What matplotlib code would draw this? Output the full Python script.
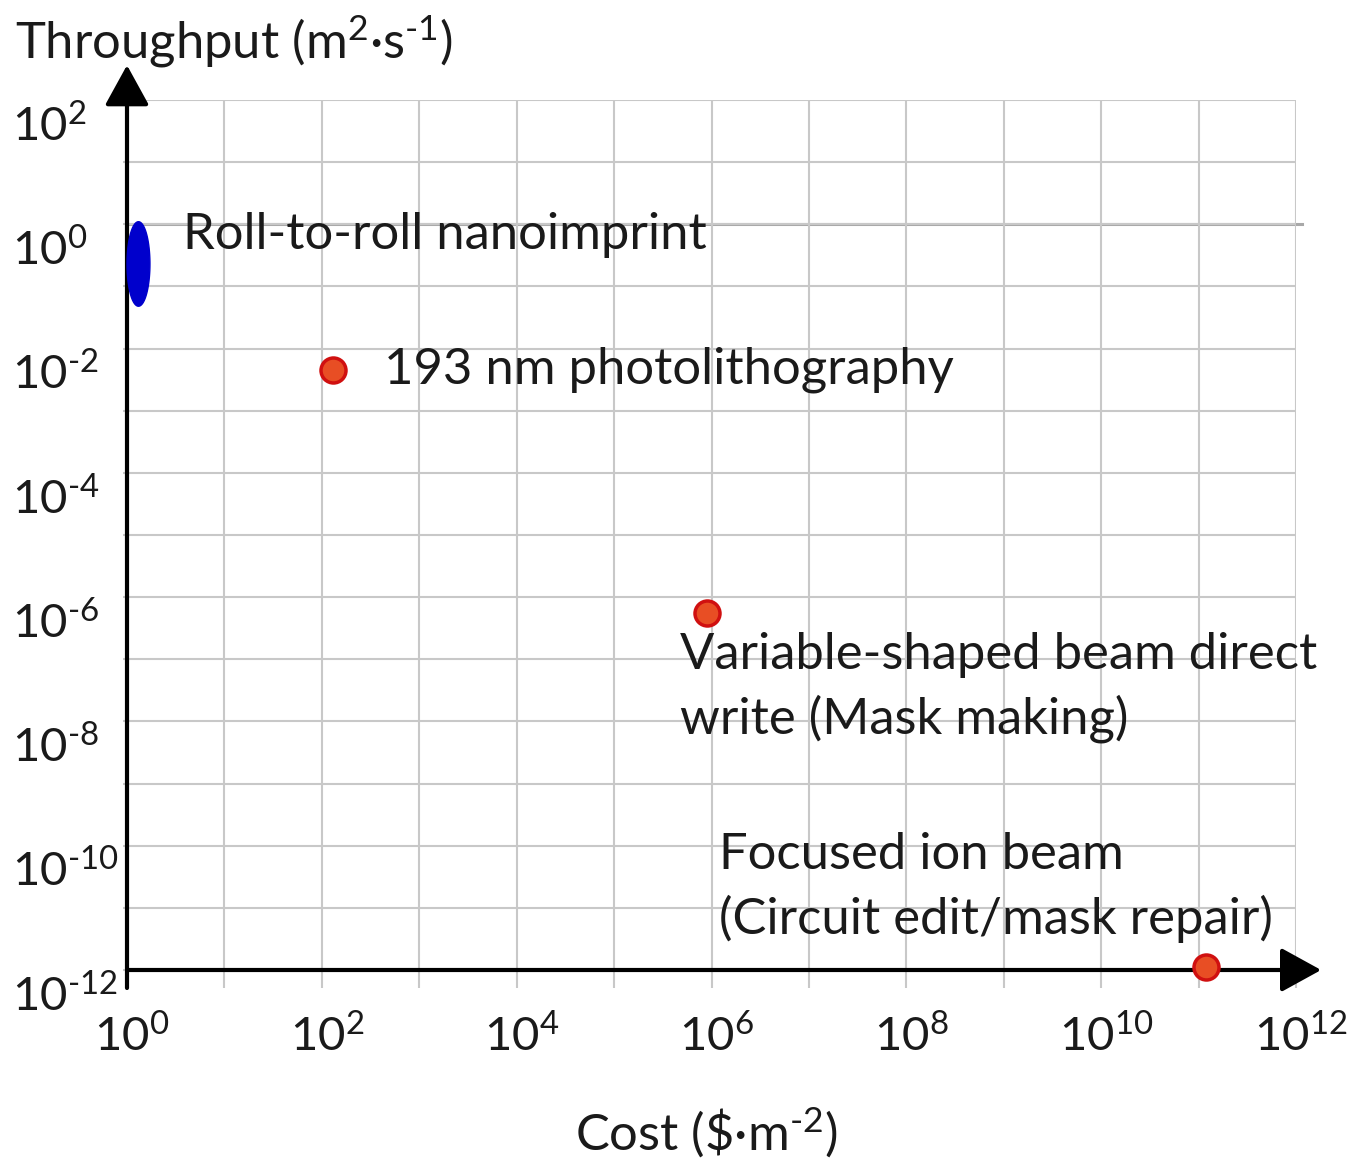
import numpy as np
import matplotlib
matplotlib.use('Agg')
from matplotlib import pyplot as plt
from matplotlib.ticker import NullLocator
from matplotlib.transforms import ScaledTranslation

plt.rcParams['font.family'] = ['Lato', 'DejaVu Sans']
plt.rcParams['mathtext.fontset'] = 'custom'
plt.rcParams['mathtext.rm'] = 'Lato'
plt.rcParams['mathtext.it'] = 'Lato:italic'
plt.rcParams['mathtext.bf'] = 'Lato:bold'

# point techniques: cost ($/m^2) vs throughput (m^2/s)
point_names = ['193 nm photolithography',
               'Variable-shaped beam direct\nwrite (Mask making)',
               'Focused ion beam\n(Circuit edit/mask repair)']
point_cost = [1.3e2, 9.0e5, 1.2e11]
point_tput = [4.6e-3, 5.5e-7, 1.1e-12]
label_cost = [4.3e2, 4.8e5, 1.2e6]
label_tput = [4.5e-3, 3.5e-8, 2.1e-11]

# roll-to-roll spans a range -> ellipse
r2r_name = 'Roll-to-roll nanoimprint'
r2r_cost = [1.0, 1.72]
r2r_tput = [0.048, 1.1]
r2r_label_pos = (3.8, 0.66)

x_exps = list(range(0, 13))
y_exps = list(range(-12, 3))


def sup_label(e):
    if e % 2:
        return ''
    if e < 0:
        return r'10$^{\text{-%d}}$' % -e
    return '10$^{%d}$' % e


x_labels = [sup_label(e) for e in x_exps]
y_labels = [sup_label(e) for e in y_exps]

FS = 36.5

fig = plt.figure(figsize=(13.58, 11.58), dpi=100)
ax = fig.add_axes([127 / 1358, 1 - 970 / 1158, (1296 - 127) / 1358, (970 - 100) / 1158])
ax.set_xscale('log')
ax.set_yscale('log')
ax.set_xlim(1, 1e12)
ax.set_ylim(1e-12, 1e2)
ax.set_xticks([10.0 ** e for e in x_exps], x_labels)
ax.set_yticks([10.0 ** e for e in y_exps], y_labels)
ax.xaxis.set_minor_locator(NullLocator())
ax.yaxis.set_minor_locator(NullLocator())
ax.grid(True, which='major', color='#c8c8c8', lw=1.5, zorder=0)
ax.axhline(1, color='#a8a8a8', lw=2.2, xmax=1.005, clip_on=False, zorder=1)
for s in ax.spines.values():
    s.set_visible(False)

ax.tick_params(axis='x', length=13, width=1.5, color='#c8c8c8', pad=18, labelsize=34, labelcolor='#1a1a1a')
ax.tick_params(axis='y', length=3, width=1.5, color='#c8c8c8', pad=80, labelsize=34, labelcolor='#1a1a1a')
off = ScaledTranslation(0, -0.22, fig.dpi_scale_trans)
for lab in ax.get_yticklabels():
    lab.set_horizontalalignment('left')
    lab.set_transform(lab.get_transform() + off)
off_x = ScaledTranslation(0.05, 0, fig.dpi_scale_trans)
for lab in ax.get_xticklabels():
    lab.set_transform(lab.get_transform() + off_x)

# axes with arrows
ax.annotate('', xy=(0, 1.04), xytext=(0, -18 / 870), xycoords='axes fraction',
            arrowprops=dict(arrowstyle='-|>,head_length=1.0,head_width=0.55', mutation_scale=25,
                            lw=3, color='black', shrinkA=0, shrinkB=0), annotation_clip=False, zorder=4)
ax.annotate('', xy=(1.0215, 0), xytext=(0, 0), xycoords='axes fraction',
            arrowprops=dict(arrowstyle='-|>,head_length=1.0,head_width=0.55', mutation_scale=25,
                            lw=3, color='black', shrinkA=0, shrinkB=0), annotation_clip=False, zorder=4)

# roll-to-roll ellipse in log space
cx = np.mean(np.log10(r2r_cost))
cy = np.mean(np.log10(r2r_tput))
ax_w = np.diff(np.log10(r2r_cost))[0] / 2
ax_h = np.diff(np.log10(r2r_tput))[0] / 2
t = np.linspace(0, 2 * np.pi, 200)
ax.fill(10 ** (cx + ax_w * np.cos(t)), 10 ** (cy + ax_h * np.sin(t)), color='#0000cc', zorder=5, clip_on=False)
ax.text(r2r_label_pos[0], r2r_label_pos[1], r2r_name, fontsize=FS, color='#1a1a1a', va='center', ha='left', zorder=3)

ax.plot(point_cost, point_tput, 'o', ms=18, mfc='#e84e24', mec='#d01010', mew=2.5,
        zorder=6, clip_on=False)
for name, lx, ly in zip(point_names, label_cost, label_tput):
    ax.text(lx, ly, name, fontsize=FS, color='#1a1a1a', va='center', ha='left', linespacing=1.42, zorder=3)

fig.text(15 / 1358, 1 - 42 / 1158, r'Throughput (m$^{2}$·s$^{\text{-1}}$)', fontsize=FS,
         color='#1a1a1a', va='center', ha='left')
fig.text(706 / 1358, 1 - 1133 / 1158, r'Cost (\$·m$^{\text{-2}}$)', fontsize=FS,
         color='#1a1a1a', va='center', ha='center')

fig.savefig('out.png', dpi=100)
